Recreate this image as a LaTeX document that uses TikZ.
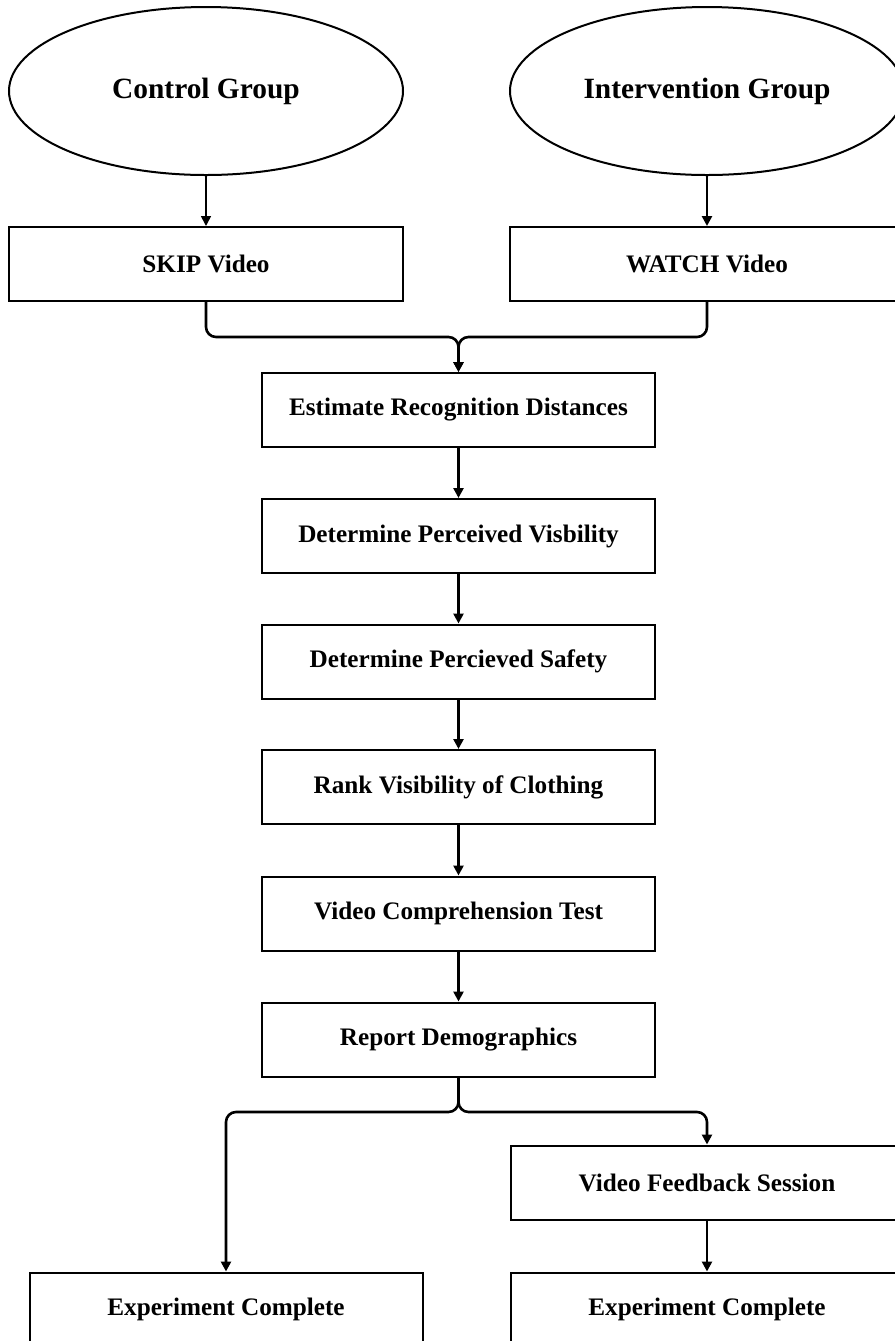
\documentclass[tikz,border=0pt]{standalone}
\usepackage{fontspec}
\setmainfont{Liberation Serif}
\usetikzlibrary{arrows.meta,shapes.geometric}
\tikzset{
	stagebox/.style={draw, line width=1pt, minimum width=196.5pt, minimum height=37pt, inner sep=0pt, font=\fontsize{12.6}{15}\selectfont\bfseries},
	groupoval/.style={draw, ellipse, line width=1pt, minimum width=197pt, minimum height=84pt, inner sep=0pt, font=\fontsize{14.7}{17}\selectfont\bfseries},
	flow/.style={line width=1.3pt, rounded corners=5pt, -{Triangle[width=5pt,length=5pt]}}
}

\begin{document}
\begin{tikzpicture}[x=0.5pt, y=-0.5pt]
				\useasboundingbox (0,0) rectangle (895,1341);
				
				\node[groupoval] (control) at (206,91) {Control Group};
				\node[groupoval] (interv) at (707,91) {Intervention Group};
				
				\node[stagebox, minimum width=197pt] (skip) at (206,264) {SKIP Video};
				\node[stagebox, minimum width=197pt] (watch) at (707,264) {WATCH Video};
				
				\node[stagebox] (estimate) at (458.5,410) {Estimate Recognition Distances};
				\node[stagebox] (visib) at (458.5,536) {Determine Perceived Visbility};
				\node[stagebox] (safety) at (458.5,661.5) {Determine Percieved Safety};
				\node[stagebox] (rank) at (458.5,787) {Rank Visibility of Clothing};
				\node[stagebox] (comprehension) at (458.5,913.5) {Video Comprehension Test};
				\node[stagebox] (demog) at (458.5,1039.5) {Report Demographics};
				
				\node[stagebox] (feedback) at (707,1182.5) {Video Feedback Session};
				\node[stagebox] (doneL) at (226,1309.5) {Experiment Complete};
				\node[stagebox] (doneR) at (707,1309.5) {Experiment Complete};
				
				\coordinate (join) at (458.5,337);
				\coordinate (fork) at (458.5,1112);
				
				\draw[flow, line width=0.8pt] (control) -- (skip);
				\draw[flow] (interv) -- (watch);
				\draw[flow] (skip.south) |- (join) -- (estimate.north);
				\draw[flow] (watch.south) |- (join) -- (estimate.north);
				\draw[flow] (estimate) -- (visib);
				\draw[flow] (visib) -- (safety);
				\draw[flow] (safety) -- (rank);
				\draw[flow] (rank) -- (comprehension);
				\draw[flow] (comprehension) -- (demog);
				\draw[flow] (demog.south) -- (fork) -| (doneL.north);
				\draw[flow] (demog.south) -- (fork) -| (feedback.north);
				\draw[flow] (feedback) -- (doneR);
			\end{tikzpicture}
\end{document}
